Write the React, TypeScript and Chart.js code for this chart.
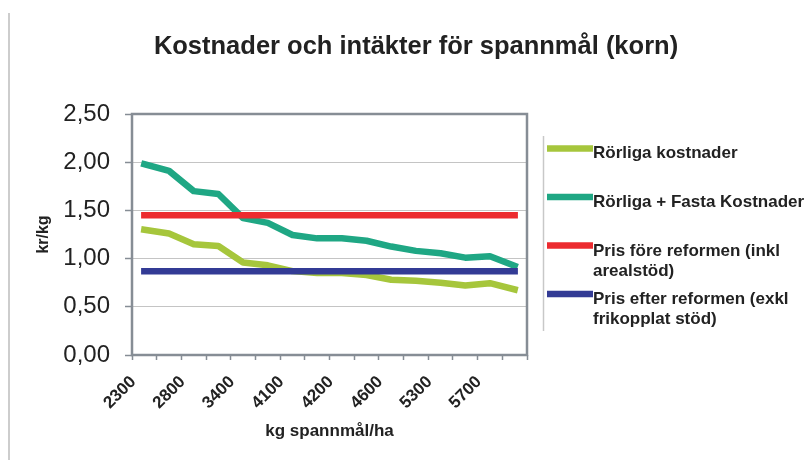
import React, { useEffect, useRef } from "react";
import { Chart, registerables } from "chart.js";

Chart.register(...registerables);

const categories = ["2300", "2500", "2800", "3100", "3400", "3800", "4100", "4100", "4200", "4400", "4600", "5000", "5300", "5500", "5700", "6000"];
const rorligaKostnader = [1.30, 1.26, 1.15, 1.13, 0.96, 0.93, 0.87, 0.85, 0.85, 0.83, 0.78, 0.77, 0.75, 0.72, 0.745, 0.68];
const rorligaFastaKostnader = [1.98, 1.91, 1.70, 1.67, 1.42, 1.37, 1.245, 1.21, 1.21, 1.185, 1.125, 1.08, 1.055, 1.01, 1.025, 0.925];
const prisFore = [1.45, 1.45, 1.45, 1.45, 1.45, 1.45, 1.45, 1.45, 1.45, 1.45, 1.45, 1.45, 1.45, 1.45, 1.45, 1.45];
const prisEfter = [0.87, 0.87, 0.87, 0.87, 0.87, 0.87, 0.87, 0.87, 0.87, 0.87, 0.87, 0.87, 0.87, 0.87, 0.87, 0.87];
const yTicks = [0, 0.5, 1, 1.5, 2, 2.5];

const title = "Kostnader och intäkter för spannmål (korn)";
const xTitle = "kg spannmål/ha";
const yTitle = "kr/kg";
const legendItems = [
  { lines: ["Rörliga kostnader"], color: "#A6C63C" },
  { lines: ["Rörliga + Fasta Kostnader"], color: "#1FA784" },
  { lines: ["Pris före reformen (inkl", "arealstöd)"], color: "#EC2B2F" },
  { lines: ["Pris efter reformen (exkl", "frikopplat stöd)"], color: "#333B95" },
];

const FONT = "'Liberation Sans', Arial, sans-serif";

const decorPlugin = {
  id: "decor",
  beforeDatasetsDraw(chart: any) {
    const { ctx, chartArea } = chart;
    ctx.save();
    ctx.strokeStyle = "#868D95";
    ctx.lineWidth = 2.5;
    ctx.strokeRect(chartArea.left, chartArea.top, chartArea.right - chartArea.left, chartArea.bottom - chartArea.top);
    ctx.restore();
  },
  afterDraw(chart: any) {
    const { ctx } = chart;
    ctx.save();
    // outer left line
    ctx.strokeStyle = "#BDBDBD";
    ctx.lineWidth = 1.5;
    ctx.beginPath();
    ctx.moveTo(9, 13);
    ctx.lineTo(9, 460);
    ctx.stroke();
    // title
    ctx.fillStyle = "#222222";
    ctx.font = `bold 25.5px ${FONT}`;
    ctx.textAlign = "center";
    ctx.textBaseline = "alphabetic";
    ctx.fillText(title, 416, 54);
    // legend
    ctx.strokeStyle = "#C8C8C8";
    ctx.lineWidth = 1.5;
    ctx.beginPath();
    ctx.moveTo(543.5, 136);
    ctx.lineTo(543.5, 331);
    ctx.stroke();
    const swatchY = [148.5, 197, 245.5, 294];
    const baseY = [[158], [207], [256, 276], [304, 324]];
    ctx.font = `bold 17px ${FONT}`;
    ctx.textAlign = "left";
    legendItems.forEach((it, i) => {
      ctx.strokeStyle = it.color;
      ctx.lineWidth = 6.5;
      ctx.lineCap = "butt";
      ctx.beginPath();
      ctx.moveTo(547, swatchY[i]);
      ctx.lineTo(593, swatchY[i]);
      ctx.stroke();
      ctx.fillStyle = "#222222";
      it.lines.forEach((l, j) => ctx.fillText(l, 593, baseY[i][j]));
    });
    ctx.restore();
  },
};

export default function App() {
  const ref = useRef<HTMLCanvasElement | null>(null);
  useEffect(() => {
    if (!ref.current) return;
    const mk = (label: string, data: number[], color: string, order: number) => ({
      label,
      data,
      borderColor: color,
      backgroundColor: color,
      borderWidth: 6.5,
      pointRadius: 0,
      borderCapStyle: "square",
      borderJoinStyle: "round",
      tension: 0,
      order,
    });
    const chart = new Chart(ref.current, {
      type: "line",
      data: {
        labels: categories,
        datasets: [
          mk(legendItems[0].lines[0], rorligaKostnader, legendItems[0].color, 3),
          mk(legendItems[1].lines[0], rorligaFastaKostnader, legendItems[1].color, 2),
          mk(legendItems[2].lines.join(" "), prisFore, legendItems[2].color, 1),
          mk(legendItems[3].lines.join(" "), prisEfter, legendItems[3].color, 0),
        ] as any,
      },
      options: {
        animation: false,
        responsive: false,
        maintainAspectRatio: false,
        layout: { padding: { top: 114, right: 282, bottom: 0, left: 0 } },
        plugins: {
          legend: { display: false },
          title: { display: false },
          tooltip: { enabled: false },
        },
        scales: {
          x: {
            type: "category",
            offset: true,
            grid: {
              offset: true,
              drawOnChartArea: false,
              drawTicks: true,
              tickLength: 5,
              tickColor: "#868D95",
              tickWidth: 1.5,
            },
            border: { display: false },
            ticks: {
              autoSkip: false,
              maxRotation: 45,
              minRotation: 45,
              padding: 12,
              labelOffset: -11,
              color: "#222222",
              font: { family: FONT, size: 17, weight: "bold" },
              callback: (_v: any, i: number) => (i % 2 === 0 ? categories[i] : ""),
            },
            title: {
              display: true,
              text: xTitle,
              color: "#222222",
              font: { family: FONT, size: 17, weight: "bold" },
              padding: { top: 0, bottom: 18 },
            },
            afterFit: (s: any) => {
              s.height = 105;
            },
          },
          y: {
            min: 0,
            max: 2.5,
            afterBuildTicks: (s: any) => {
              s.ticks = yTicks.map((v) => ({ value: v }));
            },
            grid: {
              color: "#C4C4C4",
              lineWidth: 1,
              drawTicks: true,
              tickLength: 7,
              tickColor: "#868D95",
              tickWidth: 1.5,
            },
            border: { display: false },
            ticks: {
              padding: 15,
              color: "#222222",
              font: { family: FONT, size: 24 },
              callback: (v: any) => Number(v).toFixed(2).replace(".", ","),
            },
            title: {
              display: true,
              text: yTitle,
              color: "#222222",
              font: { family: FONT, size: 16, weight: "bold" },
              padding: { top: 34, bottom: 0 },
            },
            afterFit: (s: any) => {
              s.width = 132;
            },
          },
        },
      },
      plugins: [decorPlugin],
    });
    return () => chart.destroy();
  }, []);
  return (
    <div style={{ position: "fixed", left: 0, top: 0, width: 809, height: 460, background: "#fff" }}>
      <canvas ref={ref} width={809} height={460} style={{ width: 809, height: 460, display: "block" }} />
    </div>
  );
}
